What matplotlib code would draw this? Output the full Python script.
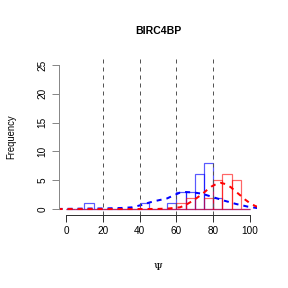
import numpy as np
import matplotlib
matplotlib.use("Agg")
import matplotlib.pyplot as plt

# Data
title = "BIRC4BP"
bin_edges = list(range(0, 101, 5))
blue_counts = [0, 0, 1, 0, 0, 0, 0, 0, 1, 0, 0, 1, 3, 3, 6, 8, 2, 0, 0, 0]
red_counts = [0, 0, 0, 0, 0, 0, 0, 0, 0, 0, 0, 0, 1, 2, 0, 2, 5, 6, 5, 0]

blue_dens_x = [-10, 0, 10, 20, 30, 36, 41, 45.5, 50, 55, 58, 62, 65, 68, 71, 74, 77, 80.5, 86, 92.5, 99, 105]
blue_dens_y = [0, 0.03, 0.08, 0.1, 0.18, 0.3, 0.7, 1.15, 1.5, 1.85, 2.3, 2.85, 2.95, 2.9, 2.8, 2.65, 2.35, 2.0, 1.45, 0.87, 0.4, 0.12]
red_dens_x = [-10, 40, 50, 56, 62, 65, 68, 71, 74, 77, 79, 82, 84, 86.5, 89.5, 92, 95, 97.5, 100, 103, 106]
red_dens_y = [0, 0, 0.02, 0.1, 0.3, 0.7, 1.27, 1.9, 2.6, 3.4, 3.9, 4.4, 4.55, 4.35, 3.8, 3.1, 2.3, 1.6, 1.0, 0.5, 0.25]
vlines = [20, 40, 60, 80]

W = 288
fig = plt.figure(figsize=(4, 4), dpi=72)
ax = fig.add_axes([58.6 / W, (W - 214.8) / W, (257.4 - 58.6) / W, (214.8 - 59.2) / W])
ax.set_xlim(-4, 104)
ax.set_ylim(-1, 26)

widths = np.diff(bin_edges)
ax.bar(bin_edges[:-1], blue_counts, width=widths, align="edge", fill=False,
       edgecolor=(0, 0, 1, 0.65), linewidth=1.2)
ax.bar(bin_edges[:-1], red_counts, width=widths, align="edge", fill=False,
       edgecolor=(1, 0, 0, 0.6), linewidth=1.2)

ax.plot(blue_dens_x, blue_dens_y, color="blue", lw=2, ls=(0, (2.5, 2.5)))
ax.plot(red_dens_x, red_dens_y, color="red", lw=2, ls=(0, (2.5, 2.5)))

for v in vlines:
    ax.axvline(v, color="#555555", lw=1, ls=(0, (4, 4)))

for s in ["top", "right"]:
    ax.spines[s].set_visible(False)
ax.spines["left"].set_bounds(0, 25)
ax.spines["bottom"].set_bounds(0, 100)
ax.spines["left"].set_color("#888888")
ax.spines["bottom"].set_color("#333333")
for s in ["left", "bottom"]:
    ax.spines[s].set_linewidth(1)

ax.set_xticks([0, 20, 40, 60, 80, 100])
ax.set_yticks([0, 5, 10, 15, 20, 25])
ax.tick_params(axis="both", length=7, width=1, labelsize=10, pad=4,
               labelfontfamily="Liberation Sans")
ax.tick_params(axis="y", color="#888888")
ax.tick_params(axis="x", color="#333333")
for lab in ax.get_yticklabels():
    lab.set_rotation(90)
    lab.set_va("center")

fig.text(158 / W, 1 - 31 / W, title, ha="center", va="center",
         fontsize=10.5, fontweight="bold", family="Liberation Sans")
fig.text(11 / W, 1 - 137 / W, "Frequency", ha="center", va="center",
         rotation=90, fontsize=9.5, family="Liberation Sans")
fig.text(158 / W, 1 - 268 / W, "\u03a8", ha="center", va="center",
         fontsize=10, family="DejaVu Serif")

fig.savefig("out.png", dpi=72)
